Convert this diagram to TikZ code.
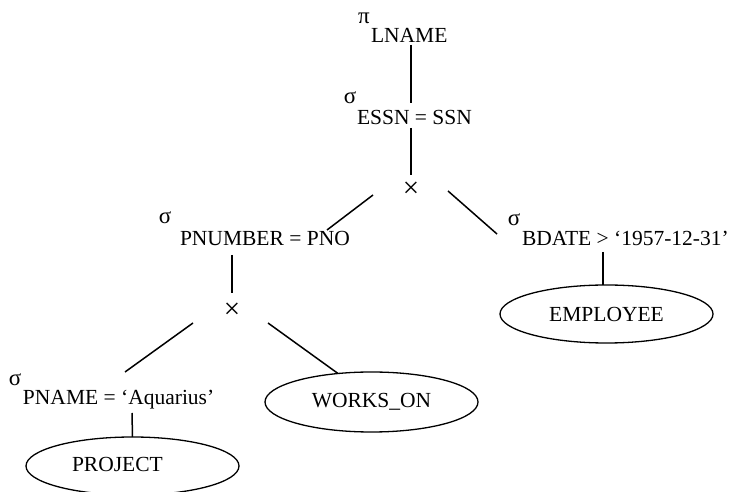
\documentclass[tikz,border=0pt]{standalone}
\usepackage{fontspec}
\setmainfont{Liberation Serif}
\usetikzlibrary{shapes.geometric,calc}
\begin{document}
\begin{tikzpicture}[x=1pt,y=1pt,
  every node/.style={inner sep=0pt,outer sep=0pt},
  optext/.style={anchor=base west,font=\fontsize{21.5}{21.5}\selectfont},
  greek/.style={font=\fontsize{23}{23}\selectfont},
  crossop/.style={font=\fontsize{29}{29}\selectfont},
  relation/.style={draw,ellipse,line width=1.3pt,minimum width=213pt,
                   font=\fontsize{21.5}{21.5}\selectfont},
  edge/.style={line width=1.5pt}]
\useasboundingbox (0,0) rectangle (733,492);

% projection at the root
\node[greek] (pi) at (364,474) {π};
\node[optext] (lname) at (371,449) {LNAME};

% join condition
\node[greek] (sigjoin) at (350,394) {σ};
\node[optext] (essn) at (357,367) {ESSN = SSN};

% upper cartesian product
\node[crossop] (cross1) at (411,302) {×};

% left branch
\node[greek] (sigpnum) at (165,274) {σ};
\node[optext] (pnum) at (180,246) {PNUMBER = PNO};
\node[crossop] (cross2) at (232,181) {×};
\node[greek] (sigpname) at (15,112) {σ};
\node[optext] (pname) at (23,87) {PNAME = ‘Aquarius’};
\node[relation,minimum height=58pt] (project) at (132.5,26) {};
\node[optext] (projtext) at (72,20) {PROJECT};
\node[relation,minimum height=60pt] (works) at (371.5,90) {WORKS\_ON};

% right branch
\node[greek] (sigbdate) at (514,272) {σ};
\node[optext] (bdate) at (522,246) {BDATE > ‘1957-12-31’};
\node[relation,minimum height=58pt] (employee) at (606.5,178) {EMPLOYEE};

% tree edges
\draw[edge] ($(lname.base west)+(40,-2)$) -- ($(essn.base west)+(54,22)$);
\draw[edge] ($(essn.base west)+(54,-3)$) -- ($(cross1)+(0,15)$);
\draw[edge] ($(cross1)+(-38,-5)$) -- ($(pnum.base west)+(147,16)$);
\draw[edge] ($(cross1)+(37,-1)$) -- ($(bdate.base west)+(-25,12)$);
\draw[edge] ($(pnum.base west)+(52,-9)$) -- ($(cross2)+(0,18)$);
\draw[edge] ($(bdate.base west)+(81,-6)$) -- ($(employee.north)+(-3.5,0)$);
\draw[edge] ($(cross2)+(-39,-12)$) -- ($(pname.base west)+(102,33)$);
\draw[edge] ($(cross2)+(36,-12)$) -- ($(works)+(-33.5,28.5)$);
\draw[edge] ($(pname.base west)+(109,-8)$) -- (project.north);
\end{tikzpicture}
\end{document}
